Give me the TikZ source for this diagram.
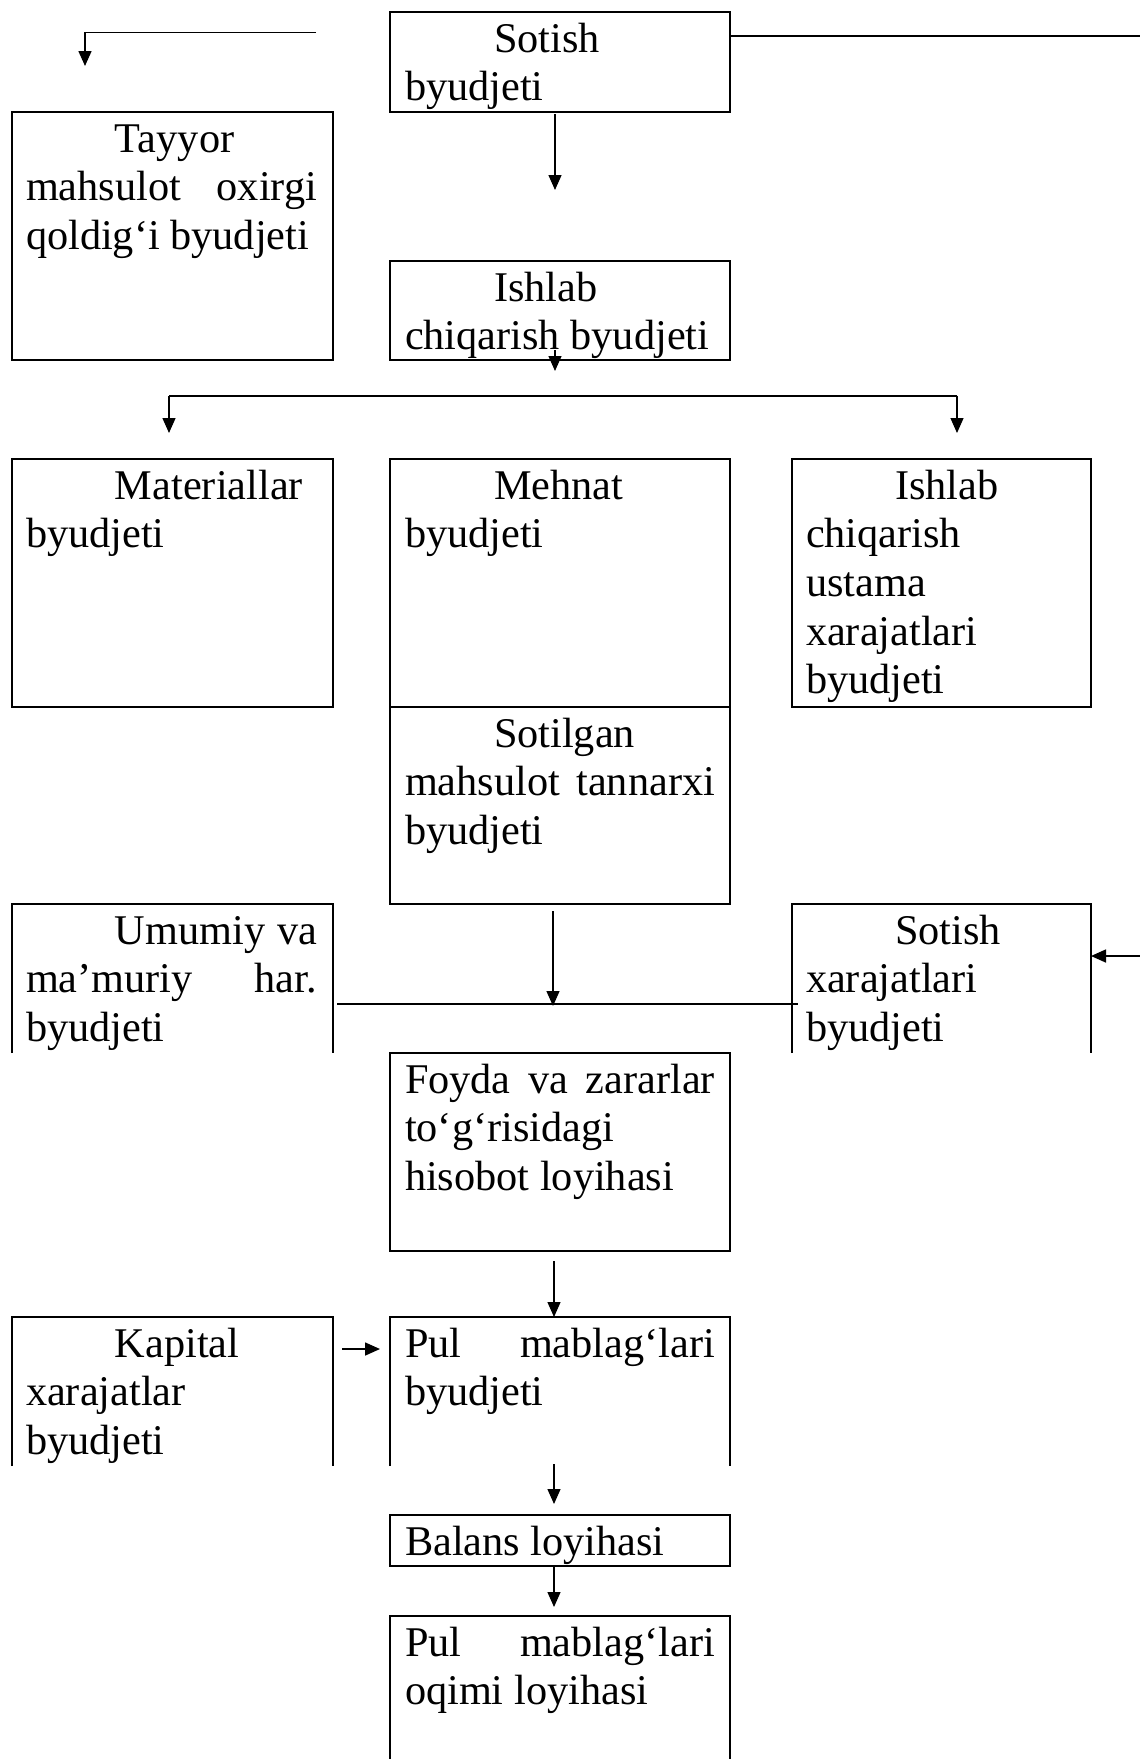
\documentclass[tikz,border=0pt]{standalone}
\usepackage{fontspec}
\setmainfont{Liberation Serif}
\usetikzlibrary{arrows.meta}

% one indented first line and one fully justified line
\newcommand\firstind{\hspace*{89pt}}
\newcommand\justline[1]{\makebox[\linewidth][s]{#1}}

\tikzset{
  boxnode/.style={inner sep=0pt, outer sep=0pt, anchor=north west},
  boxline/.style={line width=2pt, draw=black},
  txt/.style={inner sep=0pt, outer sep=0pt, anchor=base west,
              font=\fontsize{42.3pt}{48.7pt}\selectfont},
  wire/.style={line width=1.8pt},
  arr/.style={line width=1.3pt, -{Triangle[length=15pt,width=13pt]}},
}

\begin{document}
\begin{tikzpicture}[x=1pt, y=-1pt]
\fill[white] (0,0) rectangle (1140,1759);
\useasboundingbox (0,0) rectangle (1140,1759);

% ---- closed boxes
\node[boxnode, boxline, minimum width=340pt, minimum height=100pt] (sot) at (390,12) {};
\node[boxnode, boxline, minimum width=321pt, minimum height=248pt] (tay) at (12,112) {};
\node[boxnode, boxline, minimum width=340pt, minimum height=99pt]  (ish) at (390,261) {};
\node[boxnode, boxline, minimum width=321pt, minimum height=248pt] (mat) at (12,459) {};
\node[boxnode, boxline, minimum width=340pt, minimum height=248pt] (meh) at (390,459) {};
\node[boxnode, boxline, minimum width=299pt, minimum height=248pt] (ust) at (792,459) {};
\node[boxnode, boxline, minimum width=340pt, minimum height=197pt] (stl) at (390,707) {};
\node[boxnode, boxline, minimum width=340pt, minimum height=198pt] (foy) at (390,1053) {};
\node[boxnode, boxline, minimum width=340pt, minimum height=51pt]  (bal) at (390,1515) {};

% ---- boxes left open at the bottom
\node[boxnode, minimum width=321pt, minimum height=149pt] (umu) at (12,904) {};
\node[boxnode, minimum width=299pt, minimum height=149pt] (sxb) at (792,904) {};
\node[boxnode, minimum width=321pt, minimum height=149pt] (kap) at (12,1317) {};
\node[boxnode, minimum width=340pt, minimum height=149pt] (pmb) at (390,1317) {};
\node[boxnode, minimum width=340pt, minimum height=143pt] (poq) at (390,1616) {};
\foreach \b in {umu,sxb,kap,pmb,poq}
  \draw[boxline] (\b.south west) -- (\b.north west) -- (\b.north east) -- (\b.south east);

% ---- texts
\node[txt] (sot-t) at ([shift={(15,40)}]sot.north west)
  {\parbox[t]{310pt}{\firstind Sotish\\byudjeti}};
\node[txt] (tay-t) at ([shift={(14,40)}]tay.north west)
  {\parbox[t]{291pt}{\firstind Tayyor\\\justline{mahsulot oxirgi}\\qoldig‘i byudjeti}};
\node[txt] (ish-t) at ([shift={(15,40)}]ish.north west)
  {\parbox[t]{310pt}{\firstind Ishlab\\chiqarish byudjeti}};
\node[txt] (mat-t) at ([shift={(14,40)}]mat.north west)
  {\parbox[t]{291pt}{\firstind Materiallar\\byudjeti}};
\node[txt] (meh-t) at ([shift={(15,40)}]meh.north west)
  {\parbox[t]{310pt}{\firstind Mehnat\\byudjeti}};
\node[txt] (ust-t) at ([shift={(14,40)}]ust.north west)
  {\parbox[t]{270pt}{\firstind Ishlab\\chiqarish\\ustama\\xarajatlari\\byudjeti}};
\node[txt] (stl-t) at ([shift={(15,40)}]stl.north west)
  {\parbox[t]{310pt}{\firstind Sotilgan\\\justline{mahsulot tannarxi}\\byudjeti}};
\node[txt] (umu-t) at ([shift={(14,40)}]umu.north west)
  {\parbox[t]{291pt}{\firstind\makebox[\dimexpr\linewidth-89pt][s]{Umumiy va}\\\justline{ma’muriy har.}\\byudjeti}};
\node[txt] (sxb-t) at ([shift={(14,40)}]sxb.north west)
  {\parbox[t]{270pt}{\firstind Sotish\\xarajatlari\\byudjeti}};
\node[txt] (foy-t) at ([shift={(15,40)}]foy.north west)
  {\parbox[t]{310pt}{\justline{Foyda va zararlar}\\to‘g‘risidagi\\hisobot loyihasi}};
\node[txt] (kap-t) at ([shift={(14,40)}]kap.north west)
  {\parbox[t]{291pt}{\firstind Kapital\\xarajatlar\\byudjeti}};
\node[txt] (pmb-t) at ([shift={(15,40)}]pmb.north west)
  {\parbox[t]{310pt}{\justline{Pul mablag‘lari}\\byudjeti}};
\node[txt] (bal-t) at ([shift={(15,40)}]bal.north west)
  {\parbox[t]{310pt}{Balans loyihasi}};
\node[txt] (poq-t) at ([shift={(15,40)}]poq.north west)
  {\parbox[t]{310pt}{\justline{Pul mablag‘lari}\\oqimi loyihasi}};

% ---- connector end points
\coordinate (tlA) at (316,32.5);
\coordinate (tlB) at (85,66);
\coordinate (trE) at (1140,35.7);
\coordinate (s1)  at (555,190);
\coordinate (i1)  at (555,371);
\coordinate (bl)  at (169,395.7);
\coordinate (br)  at (957,395.7);
\coordinate (blT) at (169,433);
\coordinate (brT) at (957,433);
\coordinate (jT)  at (553,1006);
\coordinate (hL)  at (337,1004);
\coordinate (hR)  at (798,1004);
\coordinate (rE)  at (1140,956);
\coordinate (kA)  at (342,1349);
\coordinate (kB)  at (380,1349);
\coordinate (pA)  at (554,1464);
\coordinate (pB)  at (554,1504);
\coordinate (qB)  at (554,1607);

% ---- connectors
\draw[arr, line width=1.6pt] (tlA) -| (tlB);
\draw[wire] (sot.east |- trE) -- (trE);
\draw[arr] ([yshift=-2pt]sot.south -| s1) -- (s1);
\draw[arr] ([yshift=10pt]ish.south -| i1) -- (i1);
\draw[wire] (bl) -- (br);
\draw[arr] (bl) -- (blT);
\draw[arr] (br) -- (brT);
\draw[arr] ([yshift=-7pt]stl.south -| jT) -- (jT);
\draw[wire] (hL) -- (hR);
\draw[arr, line width=1.6pt] (rE) -- (rE -| sxb.east);
\draw[arr] ([yshift=-10pt]foy.south -| pA) -- (pmb.north -| pA);
\draw[arr, line width=1.6pt] (kA) -- (kB);
\draw[arr] (pA) -- (pB);
\draw[arr] (bal.south -| qB) -- (qB);
\end{tikzpicture}
\end{document}
